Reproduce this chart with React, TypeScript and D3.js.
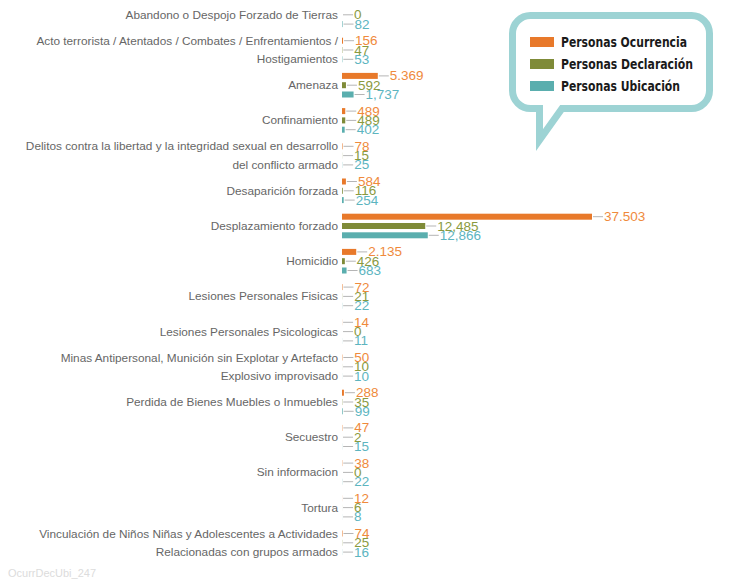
import { useCallback, useEffect, useRef } from "react";
import * as d3 from "d3";

// categories, top to bottom (multi-line labels split with "\n")
const categories = [
  "Abandono o Despojo Forzado de Tierras",
  "Acto terrorista / Atentados / Combates / Enfrentamientos /\nHostigamientos",
  "Amenaza",
  "Confinamiento",
  "Delitos contra la libertad y la integridad sexual en desarrollo\ndel conflicto armado",
  "Desaparición forzada",
  "Desplazamiento forzado",
  "Homicidio",
  "Lesiones Personales Fisicas",
  "Lesiones Personales Psicologicas",
  "Minas Antipersonal, Munición sin Explotar y Artefacto\nExplosivo improvisado",
  "Perdida de Bienes Muebles o Inmuebles",
  "Secuestro",
  "Sin informacion",
  "Tortura",
  "Vinculación de Niños Niñas y Adolescentes a Actividades\nRelacionadas con grupos armados",
];

const ocurrencia = [null, 156, 5369, 489, 78, 584, 37503, 2135, 72, 14, 50, 288, 47, 38, 12, 74];
const declaracion = [0, 47, 592, 489, 15, 116, 12485, 426, 21, 0, 10, 35, 2, 0, 6, 25];
const ubicacion = [82, 53, 1737, 402, 25, 254, 12866, 683, 22, 11, 10, 99, 15, 22, 8, 16];

const seriesNames = ["Personas Ocurrencia", "Personas Declaración", "Personas Ubicación"];
const barColors = ["#e8792a", "#7f8b38", "#5aaeae"];
const textColors = ["#ef8a3c", "#8a9a3e", "#5db5bf"];

const W = 743;
const H = 579;

const fmtComma = d3.format(",");
const fmtDot = d3.formatLocale({ decimal: ",", thousands: ".", grouping: [3], currency: ["", ""] }).format(",");

const App = () => {
  const svgRef = useRef(null);

  const renderGraph = useCallback((svgEl) => {
    const svg = d3.select(svgEl);
    svg.selectAll("*").remove();

    const x = d3.scaleLinear().domain([0, 37503]).range([342, 592]);

    const y = d3
      .scaleBand()
      .domain(categories)
      .range([-2.8, 560.4])
      .padding(0);

    const sub = d3.scalePoint().domain(seriesNames).range([-9.3, 9.3]);

    const barH = 6;
    const leader = 11;

    const data = [ocurrencia, declaracion, ubicacion];

    const groups = svg
      .append("g")
      .selectAll("g")
      .data(categories)
      .join("g")
      .attr("transform", (d) => `translate(0,${y(d) + y.bandwidth() / 2})`);

    // category labels
    groups.each(function (cat) {
      const g = d3.select(this);
      const lines = cat.split("\n");
      const ys = lines.length === 1 ? [0] : [sub(seriesNames[0]), sub(seriesNames[2])];
      lines.forEach((line, i) => {
        g.append("text")
          .attr("x", 338)
          .attr("y", ys[i])
          .attr("text-anchor", "end")
          .attr("dominant-baseline", "central")
          .attr("font-family", "'Liberation Sans', Arial, sans-serif")
          .attr("font-size", 11.8)
          .attr("fill", "#666")
          .text(line);
      });
    });

    // bars, leader lines and value labels
    seriesNames.forEach((s, si) => {
      groups.each(function (cat, ci) {
        const v = data[si][ci];
        if (v === null || v === undefined) return;
        const g = d3.select(this);
        const cy = sub(s);
        const end = x(v);
        g.append("rect")
          .attr("x", x(0))
          .attr("y", cy - barH / 2)
          .attr("width", Math.max(0, end - x(0)))
          .attr("height", barH)
          .attr("fill", barColors[si]);
        g.append("line")
          .attr("x1", end + 1)
          .attr("x2", end + leader)
          .attr("y1", cy)
          .attr("y2", cy)
          .attr("stroke", "#b5b5b5")
          .attr("stroke-width", 1);
        g.append("text")
          .attr("x", end + leader + 1)
          .attr("y", cy)
          .attr("dominant-baseline", "central")
          .attr("font-family", "'Liberation Sans', Arial, sans-serif")
          .attr("font-size", 13.5)
          .attr("fill", textColors[si])
          .text(si === 0 ? fmtDot(v) : fmtComma(v));
      });
    });

    // legend bubble
    const legend = svg.append("g");
    const L = 512.5, R = 709.5, T = 15.5, B = 108.5, r = 18;
    const bubble = d3.path();
    bubble.moveTo(L + r, T);
    bubble.lineTo(R - r, T);
    bubble.arcTo(R, T, R, T + r, r);
    bubble.lineTo(R, B - r);
    bubble.arcTo(R, B, R - r, B, r);
    bubble.lineTo(562, B);
    bubble.lineTo(539.5, 140);
    bubble.lineTo(539.5, B);
    bubble.lineTo(L + r, B);
    bubble.arcTo(L, B, L, B - r, r);
    bubble.lineTo(L, T + r);
    bubble.arcTo(L, T, L + r, T, r);
    bubble.closePath();
    legend
      .append("path")
      .attr("d", bubble.toString())
      .attr("fill", "#fff")
      .attr("stroke", "#9dd3d4")
      .attr("stroke-width", 7)
      .attr("stroke-linejoin", "miter");

    const ly = d3.scalePoint().domain(seriesNames).range([42, 86]);
    const legendWidths = [126, 132, 119];
    seriesNames.forEach((s, i) => {
      legend
        .append("rect")
        .attr("x", 530)
        .attr("y", ly(s) - 5)
        .attr("width", 24)
        .attr("height", 10)
        .attr("fill", barColors[i]);
      legend
        .append("text")
        .attr("x", 561)
        .attr("y", ly(s))
        .attr("dominant-baseline", "central")
        .attr("font-family", "'DejaVu Sans', sans-serif")
        .attr("font-weight", "bold")
        .attr("font-size", 14.5)
        .attr("textLength", legendWidths[i])
        .attr("lengthAdjust", "spacingAndGlyphs")
        .attr("fill", "#1a1a1a")
        .text(s);
    });

    // footer tag
    svg
      .append("text")
      .attr("x", 8)
      .attr("y", 577)
      .attr("font-family", "'Liberation Sans', Arial, sans-serif")
      .attr("font-size", 11)
      .attr("fill", "#dcdcdc")
      .text("OcurrDecUbi_247");
  }, []);

  useEffect(() => {
    renderGraph(svgRef.current);
  }, [renderGraph]);

  return (
    <svg
      ref={svgRef}
      width={W}
      height={H}
      style={{ position: "absolute", left: 0, top: 0, background: "#fff" }}
    />
  );
};

export default App;
